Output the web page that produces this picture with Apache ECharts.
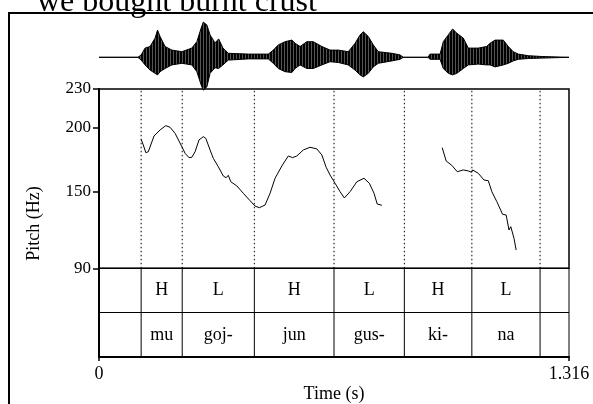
<!DOCTYPE html>
<html>
<head>
<meta charset="utf-8">
<script src="https://cdn.jsdelivr.net/npm/echarts@6/dist/echarts.min.js"></script>
<style>
  html, body { margin: 0; padding: 0; background: #fff; }
  #chart { width: 593px; height: 404px; }
</style>
</head>
<body>
<div id="chart"></div>
<script>
// Utterance title
const title = 'we bought burnt crust';

// Waveform amplitude envelope (seconds, upper / lower amplitude, full scale = 1)
const waveTime = [0.000, 0.109, 0.118, 0.129, 0.143, 0.157, 0.164, 0.171, 0.185, 0.204,
  0.232, 0.260, 0.274, 0.286, 0.292, 0.302, 0.311, 0.325, 0.335, 0.347,
  0.362, 0.418, 0.474, 0.488, 0.502, 0.521, 0.540, 0.549, 0.563, 0.582,
  0.600, 0.624, 0.647, 0.670, 0.698, 0.717, 0.731, 0.740, 0.754, 0.768,
  0.782, 0.820, 0.843, 0.852, 0.921, 0.927, 0.955, 0.964, 0.978, 0.990,
  1.002, 1.020, 1.034, 1.062, 1.085, 1.095, 1.109, 1.132, 1.146, 1.160,
  1.174, 1.202, 1.240, 1.316];
const waveTop = [0, 0, 0.06, 0.23, 0.27, 0.48, 0.68, 0.52, 0.27, 0.18,
  0.14, 0.23, 0.39, 0.73, 0.88, 0.81, 0.56, 0.36, 0.46, 0.23,
  0.10, 0.08, 0.08, 0.18, 0.31, 0.39, 0.43, 0.35, 0.27, 0.39,
  0.39, 0.27, 0.18, 0.18, 0.14, 0.35, 0.56, 0.64, 0.52, 0.31,
  0.14, 0.10, 0.06, 0, 0, 0.08, 0.08, 0.39, 0.56, 0.71,
  0.60, 0.48, 0.23, 0.23, 0.27, 0.35, 0.43, 0.43, 0.27, 0.14,
  0.08, 0.04, 0.02, 0];
const waveBottom = [0, 0, -0.07, -0.19, -0.32, -0.40, -0.44, -0.36, -0.28, -0.19,
  -0.15, -0.19, -0.36, -0.69, -0.82, -0.74, -0.40, -0.26, -0.28, -0.19,
  -0.07, -0.04, -0.04, -0.15, -0.28, -0.36, -0.38, -0.28, -0.19, -0.28,
  -0.28, -0.19, -0.11, -0.13, -0.19, -0.32, -0.44, -0.49, -0.40, -0.24,
  -0.15, -0.09, -0.05, 0, 0, -0.05, -0.05, -0.28, -0.40, -0.44,
  -0.40, -0.28, -0.19, -0.17, -0.19, -0.19, -0.24, -0.19, -0.15, -0.09,
  -0.05, -0.03, -0.02, 0];

// Pitch track, first voiced stretch (s, Hz)
const pitchTime1 = [0.118, 0.124, 0.131, 0.138, 0.154, 0.171, 0.187, 0.199, 0.213, 0.232,
  0.241, 0.252, 0.260, 0.269, 0.280, 0.292, 0.299, 0.311, 0.320, 0.334,
  0.348, 0.356, 0.362, 0.369, 0.386, 0.404, 0.423, 0.437, 0.449, 0.465,
  0.479, 0.493, 0.512, 0.530, 0.542, 0.554, 0.572, 0.591, 0.610, 0.624,
  0.636, 0.647, 0.661, 0.675, 0.687, 0.703, 0.722, 0.742, 0.757, 0.770,
  0.779, 0.792];
const pitchHz1 = [190.7, 186.3, 180.3, 181.0, 193.3, 198.0, 201.4, 200.1, 195.4, 185.0,
  179.8, 176.4, 176.7, 181.0, 190.2, 192.8, 191.5, 182.4, 175.9, 169.3,
  162.1, 160.7, 162.6, 157.6, 154.3, 148.6, 142.8, 138.6, 137.3, 139.4,
  148.6, 160.3, 169.9, 177.7, 176.4, 177.7, 182.4, 184.5, 183.2, 178.5,
  168.9, 162.8, 156.4, 149.8, 144.9, 149.8, 157.6, 160.3, 156.4, 148.6,
  140.2, 139.2];

// Pitch track, second voiced stretch (s, Hz)
const pitchTime2 = [0.961, 0.972, 0.988, 1.003, 1.020, 1.034, 1.043, 1.046, 1.062, 1.078,
  1.090, 1.100, 1.114, 1.130, 1.140, 1.148, 1.153, 1.158, 1.162, 1.168];
const pitchHz2 = [184.2, 173.8, 170.4, 165.4, 166.8, 166.0, 165.0, 166.8, 164.2, 158.9,
  158.4, 149.8, 142.0, 132.2, 131.6, 119.9, 122.5, 123.0, 113.4, 104.3];

// Syllable boundaries (s) and tier labels
const boundaries = [0.118, 0.233, 0.435, 0.658, 0.855, 1.044, 1.235];
const tones = ['H', 'L', 'H', 'L', 'H', 'L'];
const syllables = ['mu', 'goj-', 'jun', 'gus-', 'ki-', 'na'];

// Axis ticks
const pitchTicks = [90, 150, 200, 230];
const timeTicks = [0, 1.316];

const SERIF = '"Liberation Serif", "Times New Roman", serif';
const chart = echarts.init(document.getElementById('chart'), null, { renderer: 'canvas' });

const pitchData = (times, hz) => times.map((t, i) => [t, hz[i]]);
const intervals = tones.map((tone, i) => [boundaries[i], boundaries[i + 1], tone, syllables[i]]);

// vertical-stripe fill so the waveform reads as individual oscillation cycles
const stripe = document.createElement('canvas');
stripe.width = 3; stripe.height = 4;
const sctx = stripe.getContext('2d');
sctx.fillStyle = '#000'; sctx.fillRect(0, 0, 2, 4);
sctx.fillStyle = '#555'; sctx.fillRect(2, 0, 1, 4);

const hiddenAxis = { show: false };

chart.setOption({
  animation: false,
  backgroundColor: '#fff',
  graphic: [
    {
      type: 'rect', shape: { x: 9, y: 13, width: 620, height: 420 },
      style: { fill: 'none', stroke: '#000', lineWidth: 2 }, silent: true, z: 100
    },
    {
      type: 'text', x: 37, y: 2.5,
      style: { text: title, font: '32px ' + SERIF, fill: '#000', align: 'left', verticalAlign: 'middle' }
    },
    {
      type: 'text', x: 34.5, y: 223.5, rotation: Math.PI / 2,
      style: { text: 'Pitch (Hz)', font: '18px ' + SERIF, fill: '#000', align: 'center', verticalAlign: 'middle' }
    }
  ],
  grid: [
    { left: 99, top: 17.3, width: 470, height: 80 },
    { left: 99, top: 89, width: 470, height: 179.3, show: true, borderColor: '#000', borderWidth: 1.5 },
    { left: 99, top: 268.3, width: 470, height: 90, show: true, borderColor: '#000', borderWidth: 1 }
  ],
  xAxis: [
    Object.assign({ type: 'value', gridIndex: 0, min: 0, max: 1.316 }, hiddenAxis),
    Object.assign({ type: 'value', gridIndex: 1, min: 0, max: 1.316 }, hiddenAxis),
    {
      type: 'value', gridIndex: 2, min: 0, max: 1.316,
      name: 'Time (s)', nameLocation: 'middle', nameGap: 28,
      nameTextStyle: { fontFamily: SERIF, fontSize: 18, color: '#000' },
      axisLine: { lineStyle: { color: '#000', width: 2 } },
      axisTick: { customValues: timeTicks, length: 4, lineStyle: { color: '#000', width: 1.5 } },
      axisLabel: { customValues: timeTicks, margin: 8, fontFamily: SERIF, fontSize: 18, color: '#000' },
      splitLine: { show: false }
    }
  ],
  yAxis: [
    Object.assign({ type: 'value', gridIndex: 0, min: -1, max: 1 }, hiddenAxis),
    {
      type: 'value', gridIndex: 1, min: 90, max: 230,
      axisLine: { show: true, lineStyle: { color: '#000', width: 2 } },
      axisTick: { show: true, customValues: pitchTicks, length: 6, lineStyle: { color: '#000', width: 1.5 } },
      axisLabel: { customValues: pitchTicks, margin: 8, fontFamily: SERIF, fontSize: 17, color: '#000' },
      splitLine: { show: false }
    },
    {
      type: 'value', gridIndex: 2, min: 0, max: 2, interval: 1,
      axisLine: { show: true, lineStyle: { color: '#000', width: 2 } },
      axisTick: { show: false }, axisLabel: { show: false },
      splitLine: { show: true, lineStyle: { color: '#000', width: 1 } }
    }
  ],
  series: [
    {
      // sound waveform drawn as a filled envelope
      type: 'custom', xAxisIndex: 0, yAxisIndex: 0, silent: true,
      data: [0],
      renderItem: (params, api) => {
        const pts = [];
        waveTime.forEach((t, i) => pts.push(api.coord([t, waveTop[i]])));
        for (let i = waveTime.length - 1; i >= 0; i--) pts.push(api.coord([waveTime[i], waveBottom[i]]));
        return {
          type: 'polygon', shape: { points: pts },
          style: { fill: { image: stripe, repeat: 'repeat' }, stroke: '#000', lineWidth: 1 }
        };
      },
      z: 5
    },
    {
      // dotted syllable boundaries across the pitch panel
      type: 'custom', xAxisIndex: 1, yAxisIndex: 1, silent: true,
      data: boundaries.map(b => [b]),
      renderItem: (params, api) => {
        const b = api.value(0);
        const p0 = api.coord([b, 90]);
        const p1 = api.coord([b, 230]);
        return {
          type: 'line', shape: { x1: p0[0], y1: p0[1], x2: p1[0], y2: p1[1] },
          style: { stroke: '#000', lineWidth: 1, lineDash: [1.5, 2.5] }
        };
      }
    },
    {
      type: 'line', xAxisIndex: 1, yAxisIndex: 1, showSymbol: false, silent: true,
      data: pitchData(pitchTime1, pitchHz1),
      lineStyle: { color: '#000', width: 1 }
    },
    {
      type: 'line', xAxisIndex: 1, yAxisIndex: 1, showSymbol: false, silent: true,
      data: pitchData(pitchTime2, pitchHz2),
      lineStyle: { color: '#000', width: 1 }
    },
    {
      // solid boundaries in the tiers
      type: 'custom', xAxisIndex: 2, yAxisIndex: 2, silent: true,
      data: boundaries.map(b => [b]),
      renderItem: (params, api) => {
        const b = api.value(0);
        const p0 = api.coord([b, 0]);
        const p1 = api.coord([b, 2]);
        return {
          type: 'line', shape: { x1: p0[0], y1: p0[1], x2: p1[0], y2: p1[1] },
          style: { stroke: '#000', lineWidth: 1 }
        };
      }
    },
    {
      // tone and syllable labels
      type: 'custom', xAxisIndex: 2, yAxisIndex: 2, silent: true,
      data: intervals,
      renderItem: (params, api) => {
        const [s, e, tone, syl] = intervals[params.dataIndex];
        const top = api.coord([(s + e) / 2, 1.5]);
        const bot = api.coord([(s + e) / 2, 0.5]);
        return {
          type: 'group',
          children: [
            { type: 'text', x: top[0], y: top[1],
              style: { text: tone, font: '18px ' + SERIF, fill: '#000', align: 'center', verticalAlign: 'middle' } },
            { type: 'text', x: bot[0], y: bot[1],
              style: { text: syl, font: '18px ' + SERIF, fill: '#000', align: 'center', verticalAlign: 'middle' } }
          ]
        };
      }
    }
  ]
});
</script>
</body>
</html>
